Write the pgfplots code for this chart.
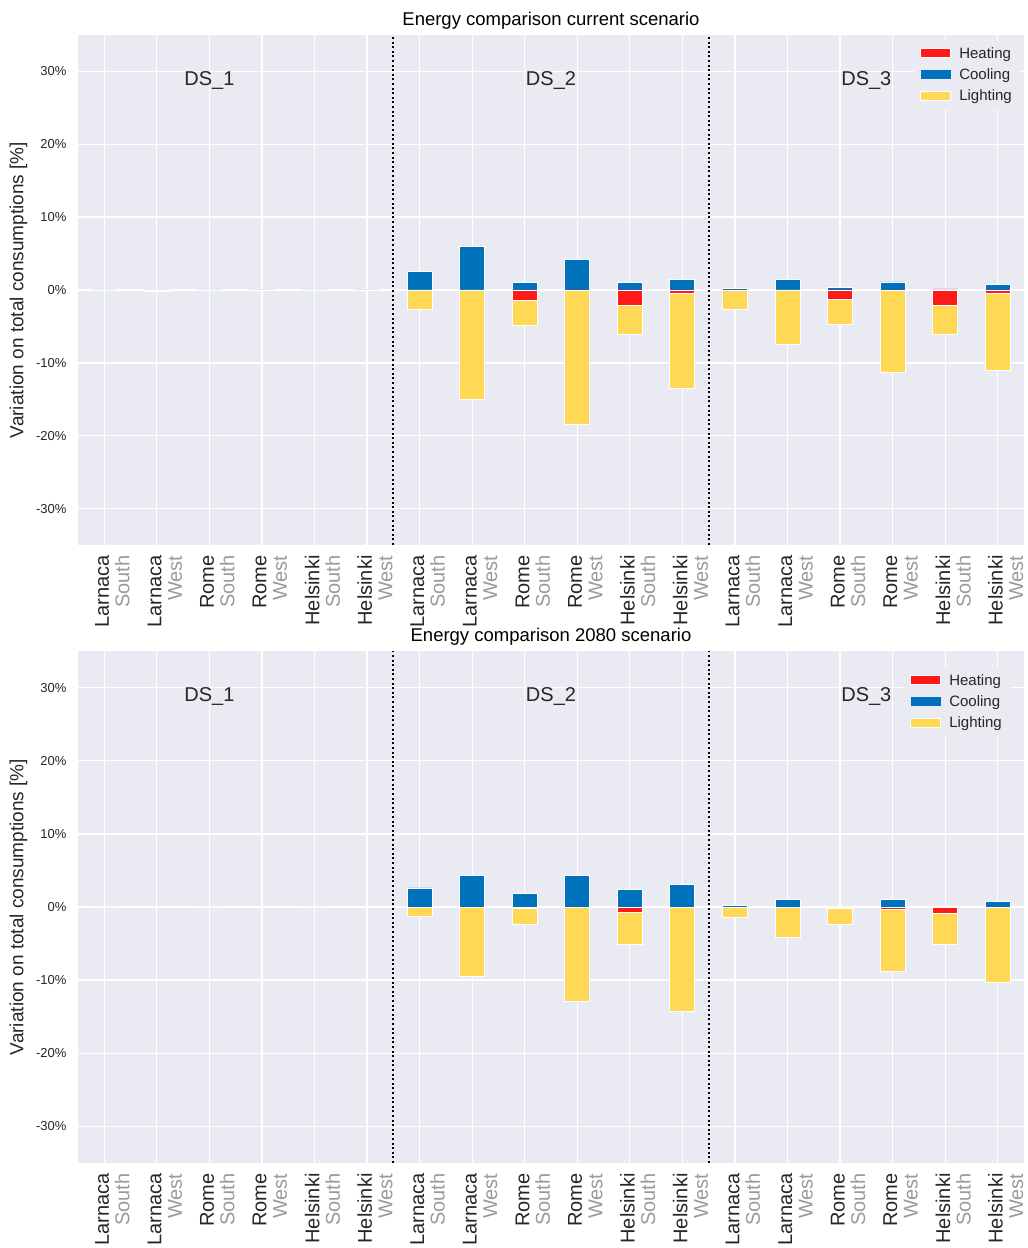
\documentclass[border=0pt]{standalone}
\usepackage{fontspec}
\setmainfont{Liberation Sans}
\usepackage{pgfplots}
\pgfplotsset{compat=1.18}
\usepackage{pgfplotstable}
\definecolor{bg}{HTML}{EAEAF2}
\definecolor{heat}{HTML}{FF1A1A}
\definecolor{cool}{HTML}{0072BB}
\definecolor{lightc}{HTML}{FFD955}
\definecolor{txt}{HTML}{262626}
\definecolor{lblgray}{HTML}{9A9A9A}
\newcommand\lab[2]{#1\\\textcolor{lblgray}{#2}}

\pgfplotstableread{
x heat cool light
0 0 0 0
1 0 0 -0.2
2 0 0 0
3 0 0 -0.1
4 0 0 0
5 0 0 -0.05
6 0 2.6 -2.7
7 0 6.0 -15.0
8 -1.4 1.05 -3.4
9 -0.1 4.2 -18.3
10 -2.1 1.0 -3.95
11 -0.45 1.5 -13.05
12 -0.1 0.2 -2.55
13 0 1.5 -7.5
14 -1.3 0.4 -3.4
15 -0.1 1.1 -11.2
16 -2.15 0.15 -3.9
17 -0.45 0.7 -10.6
}\topdata

\pgfplotstableread{
x heat cool light
0 0 0 0
1 0 0 -0.1
2 0 0 0
3 0 0 -0.1
4 0 0 0
5 0 0 -0.1
6 0 2.6 -1.3
7 0 4.35 -9.5
8 -0.2 1.85 -2.2
9 0 4.35 -12.9
10 -0.75 2.45 -4.3
11 0 3.1 -14.3
12 0 0.2 -1.4
13 0 1.0 -4.1
14 -0.15 0.05 -2.2
15 -0.35 1.0 -8.5
16 -0.85 0.05 -4.25
17 0 0.8 -10.3
}\botdata

\tikzset{dslab/.style={font=\fontsize{20}{20}\selectfont, text=txt},
  divline/.style={black, line width=2pt, dash pattern=on 2pt off 2.6pt}}
\pgfplotsset{
  baseaxis/.style={scale only axis, width=946pt, xmin=-0.5, xmax=17.5, ymin=-35, ymax=35, anchor=south west},
  panelA/.style={baseaxis,
    axis background/.style={fill=bg},
    grid=major, grid style={white, line width=1.3pt},
    axis line style={draw=none}, major tick length=0pt,
    xtick={0,...,17},
    xticklabels={\lab{Larnaca}{South},\lab{Larnaca}{West},\lab{Rome}{South},\lab{Rome}{West},\lab{Helsinki}{South},\lab{Helsinki}{West},
                 \lab{Larnaca}{South},\lab{Larnaca}{West},\lab{Rome}{South},\lab{Rome}{West},\lab{Helsinki}{South},\lab{Helsinki}{West},
                 \lab{Larnaca}{South},\lab{Larnaca}{West},\lab{Rome}{South},\lab{Rome}{West},\lab{Helsinki}{South},\lab{Helsinki}{West}},
    xticklabel style={rotate=90, anchor=east, align=right, font=\fontsize{20}{20.5}\selectfont, text=txt, yshift=-8pt, xshift=-7pt},
    ytick={-30,-20,...,30},
    yticklabel={\pgfmathprintnumber{\tick}\%},
    yticklabel style={font=\fontsize{13}{13}\selectfont, text=txt, xshift=-8pt},
    /pgf/number format/assume math mode=true,
    ylabel={Variation on total consumptions [\%]},
    ylabel style={font=\fontsize{19}{19}\selectfont, text=txt},
    ylabel shift=2pt,
    title style={font=\fontsize{18.5}{19}\selectfont, text=black, yshift=-4pt},
    ybar, bar width=25pt, bar shift=0pt,
  },
  panelB/.style={baseaxis, hide axis, ybar stacked, bar width=25pt,
    legend cell align=left,
    legend style={fill=bg, draw=white!93!black, font=\fontsize{15}{15}\selectfont, text=txt, row sep=5pt, column sep=6pt, inner xsep=6pt, inner ysep=5pt},
  },
  myleg/.style={legend image code/.code={\fill[##1] (0pt,-4.5pt) rectangle (30pt,4.5pt);}},
}

\begin{document}
\begin{tikzpicture}
\useasboundingbox (0,0) rectangle (1028pt,1248pt);
% ---------- top panel ----------
\begin{axis}[panelA, at={(78pt,703pt)}, height=510pt, title={Energy comparison current scenario}]
\addplot[fill=cool, draw=white, line width=0.8pt] table[x=x, y=cool] {\topdata};
\end{axis}
\begin{axis}[panelB, at={(78pt,703pt)}, height=510pt,
  legend style={at={(1,1)}, anchor=north east, xshift=-4pt, yshift=-5pt}]
\addplot[fill=heat, draw=white, line width=0.8pt, myleg] table[x=x, y=heat] {\topdata};
\addlegendentry{Heating}
\addlegendimage{fill=cool, draw=none, myleg}
\addlegendentry{Cooling}
\addplot[fill=lightc, draw=white, line width=0.8pt, myleg] table[x=x, y=light] {\topdata};
\addlegendentry{Lighting}
\draw[divline] (axis cs:5.5,-35) -- (axis cs:5.5,35);
\draw[divline] (axis cs:11.5,-35) -- (axis cs:11.5,35);
\node[dslab] at (axis cs:2,28.8) {DS\_1};
\node[dslab] at (axis cs:8.5,28.8) {DS\_2};
\node[dslab] at (axis cs:14.5,28.8) {DS\_3};
\end{axis}
% ---------- bottom panel ----------
\begin{axis}[panelA, at={(78pt,85pt)}, height=512pt, title={Energy comparison 2080 scenario}]
\addplot[fill=cool, draw=white, line width=0.8pt] table[x=x, y=cool] {\botdata};
\end{axis}
\begin{axis}[panelB, at={(78pt,85pt)}, height=512pt,
  legend style={at={(1,1)}, anchor=north east, xshift=-14pt, yshift=-16pt}]
\addplot[fill=heat, draw=white, line width=0.8pt, myleg] table[x=x, y=heat] {\botdata};
\addlegendentry{Heating}
\addlegendimage{fill=cool, draw=none, myleg}
\addlegendentry{Cooling}
\addplot[fill=lightc, draw=white, line width=0.8pt, myleg] table[x=x, y=light] {\botdata};
\addlegendentry{Lighting}
\draw[divline] (axis cs:5.5,-35) -- (axis cs:5.5,35);
\draw[divline] (axis cs:11.5,-35) -- (axis cs:11.5,35);
\node[dslab] at (axis cs:2,28.8) {DS\_1};
\node[dslab] at (axis cs:8.5,28.8) {DS\_2};
\node[dslab] at (axis cs:14.5,28.8) {DS\_3};
\end{axis}
\end{tikzpicture}
\end{document}
